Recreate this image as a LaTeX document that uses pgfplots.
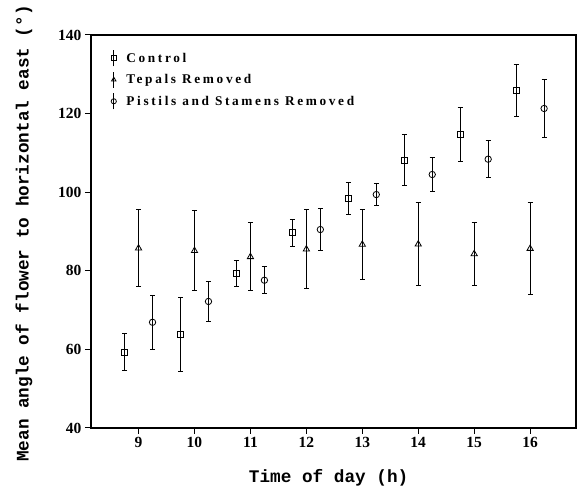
\documentclass[border=0pt]{standalone}
\usepackage{fontspec}
\setmainfont{Liberation Serif}
\newfontfamily\legfont[LetterSpace=20]{Liberation Serif}
\newfontfamily\labfont{Liberation Mono}
\usepackage{pgfplots}
\usepackage{pgfplotstable}
\pgfplotsset{compat=1.18}
\usetikzlibrary{calc}

% x  mean  error
\pgfplotstableread{
x     y      e
8.75  59.3   4.7
9.75  63.8   9.5
10.75 79.3   3.4
11.75 89.7   3.45
12.75 98.4   3.95
13.75 108.2  6.6
14.75 114.7  6.9
15.75 125.8  6.6
}\control
\pgfplotstableread{
x     y      e
9     85.75  9.85
10    85.1   10.2
11    83.55  8.65
12    85.5   10.1
13    86.7   8.9
14    86.75  10.55
15    84.3   8.1
16    85.65  11.65
}\tepals
\pgfplotstableread{
x     y      e
9.25  66.9   6.8
10.25 72.2   5.0
11.25 77.6   3.5
12.25 90.5   5.35
13.25 99.4   2.7
14.25 104.5  4.35
15.25 108.4  4.7
16.25 121.3  7.5
}\pistils

\begin{document}
\begin{tikzpicture}
\begin{axis}[
  width=485pt, height=393pt, scale only axis,
  xmin=8.15, xmax=16.82, ymin=40, ymax=140,
  xtick={9,...,16}, ytick={40,60,...,140},
  tick pos=left, tick align=outside,
  major tick length=6pt,
  axis line style={line width=1.2pt},
  every tick/.style={black,line width=1pt},
  /pgf/number format/assume math mode=true,
  tick label style={font=\bfseries\fontsize{15.5}{16}\selectfont},
  xlabel={Time of day (h)},
  ylabel={Mean angle of flower to horizontal east (\textdegree)},
  label style={font=\labfont\bfseries\fontsize{17.7}{18}\selectfont},
  xlabel style={at={(axis description cs:0.49,-0.127)},anchor=center},
  ylabel style={at={(axis description cs:-0.138,0.495)},anchor=center},
  legend style={at={(axis description cs:0.035,0.968)},anchor=north west,
    draw=none,fill=none,font=\legfont\bfseries\fontsize{13.3}{14}\selectfont,
    row sep=4.5pt,/tikz/every odd column/.append style={column sep=8pt}},
  legend cell align=left,
  legend image code/.code={
    \draw[black,line width=1pt] (0pt,-8pt) -- (0pt,8pt);
    \draw[#1,mark size=2.6pt] plot coordinates {(0pt,0pt)};
  },
  error bars/y dir=both, error bars/y explicit,
  error bars/error bar style={black,line width=1.1pt},
  error bars/error mark options={rotate=90,mark size=2.5pt,line width=1pt,black},
]
\addplot[only marks,mark=square,mark size=3pt,mark options={black,line width=0.8pt}]
  table[x=x,y=y,y error=e]{\control};
\addlegendentry{Control}
\addplot[only marks,mark=triangle,mark size=3.6pt,mark options={black,line width=0.8pt}]
  table[x=x,y=y,y error=e]{\tepals};
\addlegendentry{Tepals Removed}
\addplot[only marks,mark=o,mark size=3.2pt,mark options={black,line width=0.8pt}]
  table[x=x,y=y,y error=e]{\pistils};
\addlegendentry{Pistils and Stamens Removed}
\end{axis}
\pgfresetboundingbox
\path ($(current axis.south west)+(-91pt,-60pt)$) rectangle ($(current axis.north east)+(4pt,35pt)$);
\end{tikzpicture}
\end{document}
